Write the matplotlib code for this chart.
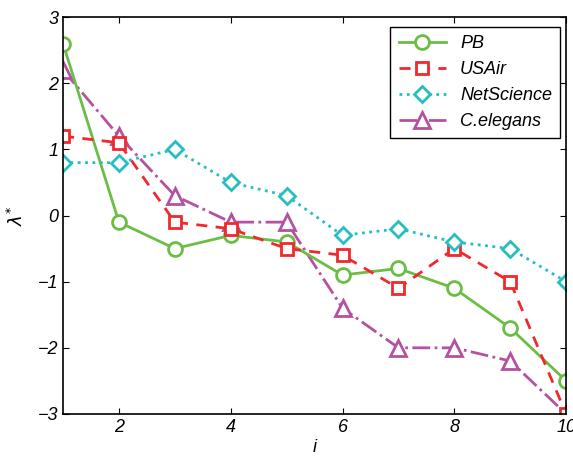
import matplotlib
matplotlib.use('Agg')
import matplotlib.pyplot as plt
import numpy as np

plt.rcParams['font.family'] = ['Liberation Sans', 'DejaVu Sans']

# data
idx = [1, 2, 3, 4, 5, 6, 7, 8, 9, 10]
pb = [2.6, -0.1, -0.5, -0.3, -0.4, -0.9, -0.8, -1.1, -1.7, -2.5]
usair = [1.2, 1.1, -0.1, -0.2, -0.5, -0.6, -1.1, -0.5, -1.0, -3.0]
netscience = [0.8, 0.8, 1.0, 0.5, 0.3, -0.3, -0.2, -0.4, -0.5, -1.0]
celegans = [2.2, 1.2, 0.3, -0.1, -0.1, -1.4, -2.0, -2.0, -2.2, -3.0]
xticks = [2, 4, 6, 8, 10]
yticks = [-3, -2, -1, 0, 1, 2, 3]

#=======================================================
fig = plt.figure(figsize=(5.73, 4.62), dpi=100)
ax = fig.add_axes([0.110, 0.104, 0.878, 0.859])

lw = 2.0
ms = 10
ax.plot(idx, pb, '-', color='#6cbd45', lw=lw, marker='o', ms=ms,
        mfc='white', mec='#6cbd45', mew=2, label='PB')
ax.plot(idx, usair, '--', color='#ee2a2e', lw=lw, marker='s', ms=9,
        mfc='white', mec='#ee2a2e', mew=2, label='USAir', dashes=(4, 3))
ax.plot(idx, netscience, ':', color='#25bfc2', lw=lw, marker='D', ms=8,
        mfc='white', mec='#25bfc2', mew=2, label='NetScience')
ax.plot(idx, celegans, '-.', color='#b5529f', lw=lw, marker='^', ms=11,
        mfc='white', mec='#b5529f', mew=2, label='C.elegans', zorder=1.5)

ax.set_xlim(1, 10)
ax.set_ylim(-3, 3)
ax.set_xticks(xticks)
ax.set_yticks(yticks)
ax.set_yticklabels([str(v).replace('-', '\u2212') for v in yticks])
ax.tick_params(direction='in', top=True, right=True, length=4,
               labelsize=13, width=0.8)
for lab in ax.get_xticklabels() + ax.get_yticklabels():
    lab.set_fontstyle('italic')
for sp in ax.spines.values():
    sp.set_linewidth(1.2)

ax.set_xlabel('i', fontsize=13, fontstyle='italic', labelpad=2)
ax.set_ylabel(r'$\lambda^{*}$', fontsize=13, labelpad=8)

leg = ax.legend(loc='upper right', fontsize=13, fancybox=False,
                framealpha=1, edgecolor='black', handlelength=2.6,
                borderpad=0.45, labelspacing=0.5, borderaxespad=0,
                bbox_to_anchor=(0.988, 0.975))
leg.get_frame().set_linewidth(1.0)
for t in leg.get_texts():
    t.set_fontstyle('italic')

fig.savefig('out.png', dpi=100)
